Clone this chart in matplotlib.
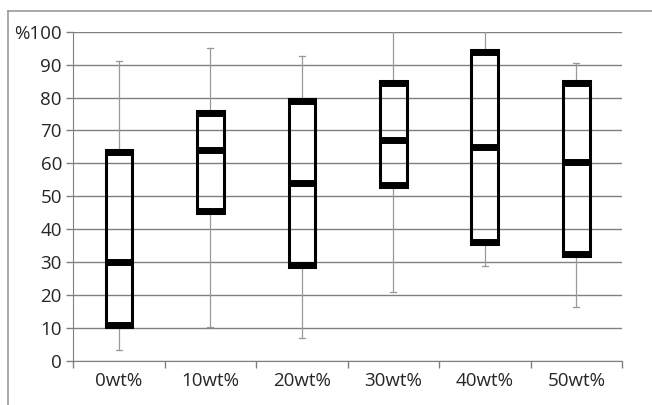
import matplotlib.pyplot as plt
from matplotlib.lines import Line2D
from matplotlib.patches import Rectangle

# values (percent)
categories = ['0wt%', '10wt%', '20wt%', '30wt%', '40wt%', '50wt%']
whisker_low = [3.5, 10.5, 7.0, 21.0, 29.0, 16.5]
q1 = [10.5, 45.0, 28.5, 53.0, 35.5, 32.0]
median = [30.0, 64.0, 54.0, 67.0, 65.0, 60.5]
q3 = [64.0, 76.0, 79.5, 85.0, 94.5, 85.0]
whisker_high = [91.0, 95.0, 92.5, 100.0, 100.0, 90.5]
y_ticks = [0, 10, 20, 30, 40, 50, 60, 70, 80, 90, 100]
y_labels = ['0', '10', '20', '30', '40', '50', '60', '70', '80', '90', '%100']

plt.rcParams['font.family'] = ['Open Sans', 'DejaVu Sans']

fig = plt.figure(figsize=(6.52, 4.05), dpi=100)
ax = fig.add_axes([0.112, 0.108, 0.842, 0.814])

grid_col = '#808080'
whisk_col = '#999999'
box_w = 0.29
cap_w = 0.066
band = 5.0

for i, cat in enumerate(categories):
    x = i + 0.5
    # whiskers
    ax.plot([x, x], [q3[i], whisker_high[i]], color=whisk_col, lw=0.9, zorder=3)
    ax.plot([x, x], [whisker_low[i], q1[i]], color=whisk_col, lw=0.9, zorder=3)
    for v in (whisker_low[i], whisker_high[i]):
        if v < 100:
            ax.plot([x - cap_w / 2, x + cap_w / 2], [v, v], color=whisk_col, lw=0.9, zorder=3)
    # box (transparent, grid shows through)
    ax.add_patch(Rectangle((x - box_w / 2, q1[i]), box_w, q3[i] - q1[i],
                           facecolor='none', edgecolor='black', lw=2.2, zorder=4))
    ax.plot([x - box_w / 2, x + box_w / 2], [q1[i] + 0.6, q1[i] + 0.6], color='black', lw=band,
            solid_capstyle='butt', zorder=5)
    ax.plot([x - box_w / 2, x + box_w / 2], [q3[i] - 0.6, q3[i] - 0.6], color='black', lw=band,
            solid_capstyle='butt', zorder=5)
    ax.plot([x - box_w / 2, x + box_w / 2], [median[i], median[i]], color='black', lw=band,
            solid_capstyle='butt', zorder=5)

ax.set_xlim(0, 6)
ax.set_ylim(0, 100)
ax.set_yticks(y_ticks)
ax.set_yticklabels(y_labels)
ax.set_xticks(range(7))
ax.set_xticklabels([])
ax.set_xticks([i + 0.5 for i in range(6)], minor=True)
ax.set_xticklabels(categories, minor=True)
ax.tick_params(axis='x', which='minor', length=0, pad=8, labelsize=13.5, colors='#262626')
ax.tick_params(axis='x', which='major', length=5, width=1, color=grid_col)
ax.tick_params(axis='y', length=5, width=1, color=grid_col, labelsize=13.5, labelcolor='#262626', pad=3)

ax.yaxis.grid(True, color=grid_col, lw=1)
ax.set_axisbelow(True)
for s in ['top', 'right']:
    ax.spines[s].set_visible(False)
ax.spines['left'].set_color(grid_col)
ax.spines['bottom'].set_color(grid_col)

# outer frame of the chart area (cut off at right and bottom)
fig.add_artist(Line2D([8 / 652, 8 / 652], [0, 1 - 11 / 405], transform=fig.transFigure,
                      color='#999999', lw=1.2))
fig.add_artist(Line2D([8 / 652, 1], [1 - 11 / 405, 1 - 11 / 405], transform=fig.transFigure,
                      color='#999999', lw=1.2))

fig.savefig('out.png', dpi=100)
